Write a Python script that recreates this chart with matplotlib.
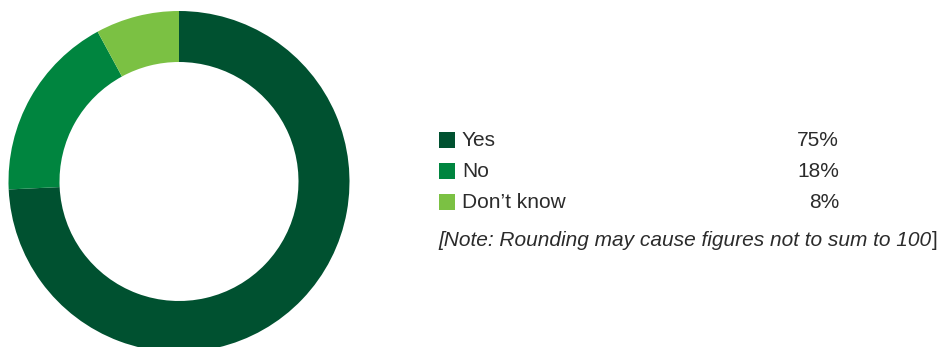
import matplotlib
matplotlib.use('Agg')
import matplotlib.pyplot as plt
import matplotlib.patches as mpatches

LABELS = ['Yes', 'No', 'Don\u2019t know']
VALUES = [75, 18, 8]
COLORS = ['#005130', '#00853F', '#7BC143']
NOTE = '[Note: Rounding may cause figures not to sum to 100'

W, H = 939, 347
TEXT_COLOR = '#2b2b2b'
FONT = 'Liberation Sans'
FS = 15

fig = plt.figure(figsize=(W / 100, H / 100), dpi=100)
ax = fig.add_axes([0, 0, 1, 1])

# donut (pixel coords, y measured from the bottom)
ax.pie(VALUES, colors=COLORS, startangle=90, counterclock=False,
       center=(179, H - 181.5), radius=170.5,
       wedgeprops=dict(width=51, linewidth=0), frame=True)
ax.set_xlim(0, W)
ax.set_ylim(0, H)
ax.set_aspect('equal')
ax.set_axis_off()

# legend drawn by hand
row_y = [140, 171, 202]
for lab, val, col, y in zip(LABELS, VALUES, COLORS, row_y):
    yy = H - y
    ax.add_patch(mpatches.Rectangle((439, yy - 8), 16, 16, color=col, lw=0))
    ax.text(462, yy, lab, fontsize=FS, family=FONT, color=TEXT_COLOR,
            ha='left', va='center')
    ax.text(839, yy, f'{val}%', fontsize=FS, family=FONT, color=TEXT_COLOR,
            ha='right', va='center')

note = ax.text(438, H - 241, NOTE, fontsize=FS, family=FONT, style='italic',
               color=TEXT_COLOR, ha='left', va='center')
fig.canvas.draw()
bb = note.get_window_extent()
ax.text(bb.x1 + 1, H - 241, ']', fontsize=FS, family=FONT,
        color=TEXT_COLOR, ha='left', va='center')

fig.savefig('out.png', dpi=100)
